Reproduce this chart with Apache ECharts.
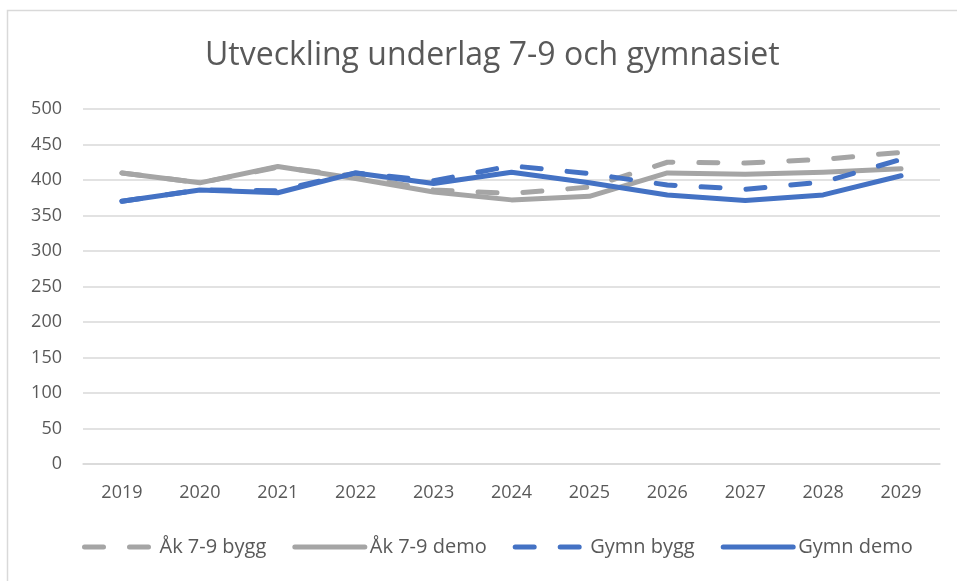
<!DOCTYPE html>
<html>
<head>
<meta charset="utf-8">
<script src="https://cdn.jsdelivr.net/npm/echarts@6/dist/echarts.min.js"></script>
<style>
  html, body { margin: 0; padding: 0; background: #fff; }
  #main { width: 957px; height: 581px; }
</style>
</head>
<body>
<div id="main"></div>
<script>
var years = ['2019', '2020', '2021', '2022', '2023', '2024', '2025', '2026', '2027', '2028', '2029'];
var akBygg   = [410, 396, 418, 405, 386, 381, 390, 425, 424, 429, 439];
var akDemo   = [410, 396, 419, 402, 383, 372, 377, 410, 408, 411, 416];
var gymnBygg = [370, 386, 385, 410, 399, 420, 409, 393, 387, 397, 429];
var gymnDemo = [370, 386, 382, 410, 395, 411, 396, 379, 371, 379, 406];

var gray = '#a5a5a5';
var blue = '#4472c4';
var font = 'Open Sans';

function line(name, data, color, dashed) {
  return {
    name: name,
    type: 'line',
    data: data,
    symbol: 'none',
    color: color,
    lineStyle: {
      width: 5,
      color: color,
      type: dashed ? [19, 26] : 'solid',
      cap: 'round',
      join: 'round'
    }
  };
}

function legendItem(name, dashed) {
  return {
    name: name,
    itemStyle: { opacity: 0 },
    lineStyle: { width: 5, type: dashed ? [19, 26] : 'solid', cap: 'round' }
  };
}

var myChart = echarts.init(document.getElementById('main'));
myChart.setOption({
  animation: false,
  title: {
    text: 'Utveckling underlag 7-9 och gymnasiet',
    left: 200,
    top: 35,
    textStyle: { fontFamily: font, fontSize: 32, fontWeight: 'normal', color: '#595959' }
  },
  graphic: [{
    type: 'rect',
    shape: { x: 7.5, y: 10.5, width: 960, height: 580 },
    style: { fill: 'none', stroke: '#d9d9d9', lineWidth: 1.5 }
  }],
  legend: {
    bottom: 19,
    left: 77,
    itemWidth: 70,
    itemHeight: 14,
    itemGap: 26,
    textStyle: { fontFamily: font, fontSize: 20, color: '#595959' },
    data: [
      legendItem('Åk 7-9 bygg', true),
      legendItem('Åk 7-9 demo', false),
      legendItem('Gymn bygg', true),
      legendItem('Gymn demo', false)
    ]
  },
  grid: { left: 83, right: 17, top: 109, bottom: 117 },
  xAxis: {
    type: 'category',
    data: years,
    axisLine: { show: true, lineStyle: { color: '#d9d9d9', width: 1.5 } },
    axisTick: { show: false },
    axisLabel: { fontFamily: font, fontSize: 18, color: '#595959', margin: 20 }
  },
  yAxis: {
    type: 'value',
    min: 0,
    max: 500,
    interval: 50,
    axisLine: { show: false },
    axisTick: { show: false },
    splitLine: { lineStyle: { color: '#d9d9d9', width: 1.5 } },
    axisLabel: { fontFamily: font, fontSize: 18, color: '#595959', margin: 21 }
  },
  series: [
    line('Åk 7-9 bygg', akBygg, gray, true),
    line('Åk 7-9 demo', akDemo, gray, false),
    line('Gymn bygg', gymnBygg, blue, true),
    line('Gymn demo', gymnDemo, blue, false)
  ]
});
</script>
</body>
</html>
